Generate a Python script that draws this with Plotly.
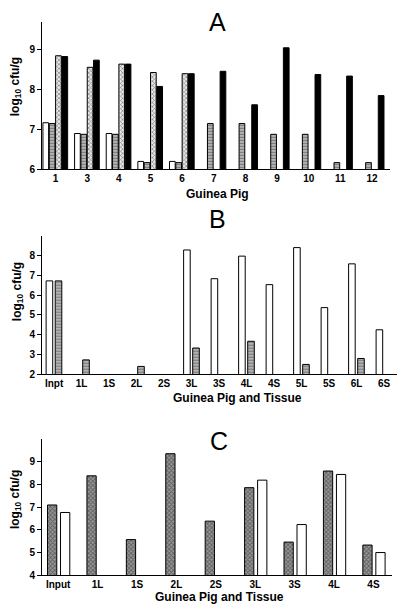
import plotly.graph_objects as go

# ---- Panel A data ----
a_cats = ["1", "3", "4", "5", "6", "7", "8", "9", "10", "11", "12"]
a_white = [7.17, 6.90, 6.90, 6.20, 6.20, None, None, None, None, None, None]
a_grey = [7.15, 6.88, 6.88, 6.17, 6.17, 7.15, 7.15, 6.88, 6.88, 6.17, 6.17]
a_check = [8.85, 8.56, 8.64, 8.43, 8.40, None, None, None, None, None, None]
a_black = [8.83, 8.74, 8.64, 8.08, 8.40, 8.46, 7.62, 9.05, 8.38, 8.34, 7.85]
a_ticks = [6, 7, 8, 9]

# ---- Panel B data ----
b_cats = ["Inpt", "1L", "1S", "2L", "2S", "3L", "3S", "4L", "4S", "5L", "5S", "6L", "6S"]
b_white = [6.72, None, None, None, None, 8.28, 6.83, 7.97, 6.53, 8.40, 5.37, 7.58, 4.25]
b_grey = [6.72, 2.73, None, 2.40, None, 3.33, None, 3.67, None, 2.50, None, 2.80, None]
b_ticks = [2, 3, 4, 5, 6, 7, 8]

# ---- Panel C data ----
c_cats = ["Input", "1L", "1S", "2L", "2S", "3L", "3S", "4L", "4S"]
c_check = [7.09, 8.37, 5.57, 9.34, 6.38, 7.85, 5.46, 8.58, 5.33]
c_white = [6.76, None, None, None, None, 8.18, 6.23, 8.43, 5.00]
c_ticks = [4, 5, 6, 7, 8, 9]

# page has an 8px body margin: lay out in window pixels, convert to figure fractions
OFF = 8.0
W = 406.0 - OFF
H = 615.0 - OFF
def fy(p):
    return 1 - (p - OFF) / H
def fx(p):
    return (p - OFF) / W

line = dict(color="black", width=1)
white_m = dict(color="white", line=line)
grey_m = dict(color="#a8a8a8", line=line,
              pattern=dict(shape="-", fgcolor="#3a3a3a", bgcolor="#b8b8b8", size=3, solidity=0.4))
checkA_m = dict(color="#dddddd", line=line,
                pattern=dict(shape="x", fgcolor="#333333", bgcolor="#e8e8e8", size=3, solidity=0.45))
black_m = dict(color="black", line=line)
checkC_m = dict(color="#888888", line=line,
                pattern=dict(shape="x", fgcolor="#222222", bgcolor="#9a9a9a", size=3, solidity=0.5))

fig = go.Figure()
# Panel A
for vals, m, off in [(a_white, white_m, -0.40), (a_grey, grey_m, -0.20),
                     (a_check, checkA_m, 0.00), (a_black, black_m, 0.20)]:
    fig.add_trace(go.Bar(x=a_cats, y=vals, marker=m, width=0.18, offset=off,
                         xaxis="x", yaxis="y", showlegend=False))
# Panel B
for vals, m, off in [(b_white, white_m, -0.29), (b_grey, grey_m, 0.04)]:
    fig.add_trace(go.Bar(x=b_cats, y=vals, marker=m, width=0.24, offset=off,
                         xaxis="x2", yaxis="y2", showlegend=False))
# Panel C
for vals, m, off in [(c_check, checkC_m, -0.27), (c_white, white_m, 0.06)]:
    fig.add_trace(go.Bar(x=c_cats, y=vals, marker=m, width=0.235, offset=off,
                         xaxis="x3", yaxis="y3", showlegend=False))

tickf = dict(family="Liberation Sans", size=10, color="black", weight="bold")
common_x = dict(type="category", showline=True, linecolor="black", linewidth=1,
                ticks="", showgrid=False, zeroline=False, tickfont=tickf)
common_y = dict(showline=True, linecolor="black", linewidth=1, ticks="outside",
                ticklen=4, tickcolor="black", showgrid=False, zeroline=False,
                tickfont=tickf, tickmode="array")

fig.update_layout(
    width=int(W), height=int(H),
    margin=dict(l=0, r=0, t=0, b=0),
    paper_bgcolor="white", plot_bgcolor="white",
    barmode="overlay",
    xaxis=dict(common_x, domain=[fx(42), fx(390)], range=[-0.43, 10.57], anchor="y"),
    yaxis=dict(common_y, domain=[fy(171), fy(22)], range=[6, 9.7], anchor="x", tickvals=a_ticks),
    xaxis2=dict(common_x, domain=[fx(42), fx(397)], range=[-0.44, 12.47], anchor="y2"),
    yaxis2=dict(common_y, domain=[fy(378), fy(238)], range=[2, 9], anchor="x2", tickvals=b_ticks),
    xaxis3=dict(common_x, domain=[fx(42), fx(392)], range=[-0.41, 8.47], anchor="y3"),
    yaxis3=dict(common_y, domain=[fy(581), fy(443)], range=[4, 10], anchor="x3", tickvals=c_ticks),
)

titlef = dict(family="Liberation Sans", size=25, color="black")
labf = dict(family="Liberation Sans", size=12, color="black", weight="bold")
ann = []
for txt, x, y in [("A", 218, 22), ("B", 218, 221), ("C", 219, 445)]:
    ann.append(dict(text=txt, x=fx(x), y=fy(y), xref="paper", yref="paper",
                    showarrow=False, font=titlef, xanchor="center", yanchor="middle"))
for txt, x, y in [("Guinea Pig", 217, 196), ("Guinea Pig and Tissue", 238, 402),
                  ("Guinea Pig and Tissue", 219, 603)]:
    ann.append(dict(text=txt, x=fx(x), y=fy(y), xref="paper", yref="paper",
                    showarrow=False, font=labf, xanchor="center", yanchor="middle"))
for x, y in [(16, 88), (18, 295), (16, 505)]:
    ann.append(dict(text="log<sub>10</sub> cfu/g", x=fx(x), y=fy(y), xref="paper", yref="paper",
                    showarrow=False, font=labf, textangle=-90, xanchor="center", yanchor="middle"))
fig.update_layout(annotations=ann)

fig.write_html("out.html")
